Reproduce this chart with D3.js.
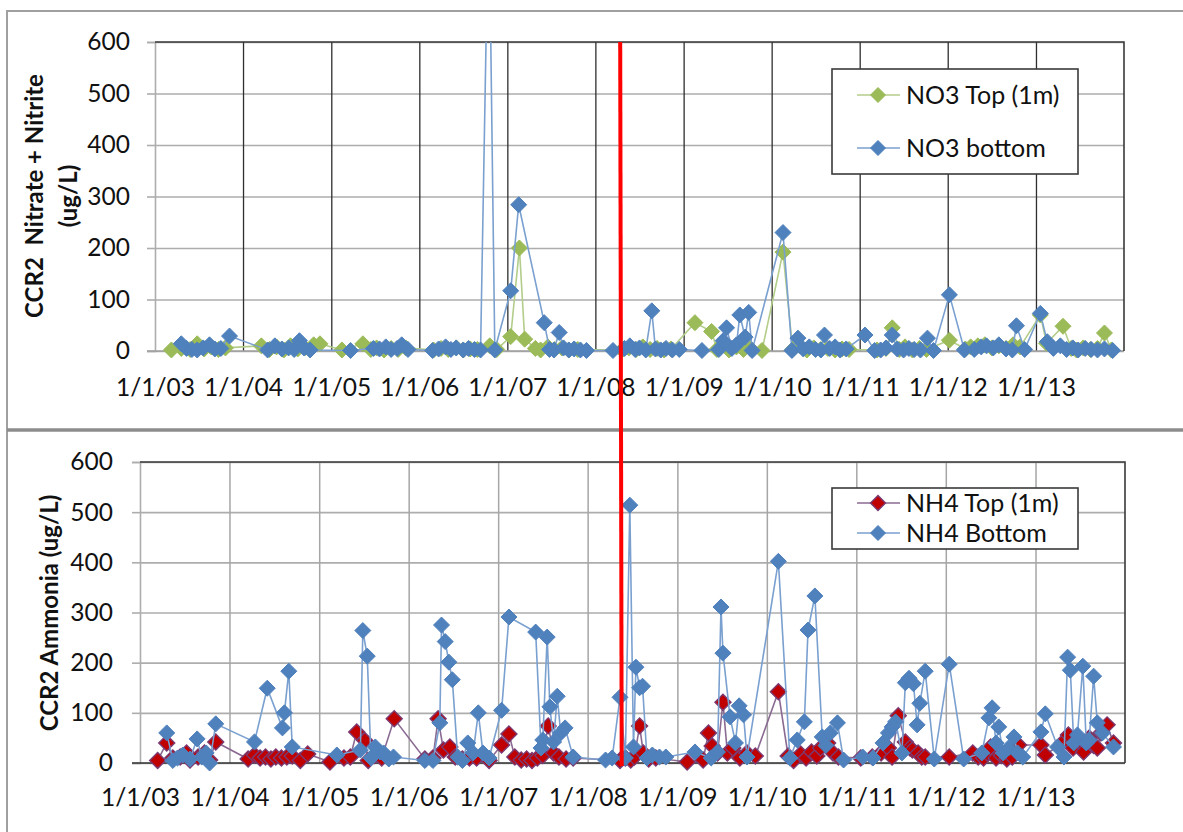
<!DOCTYPE html>
<html>
<head>
<meta charset="utf-8">
<script src="https://cdn.jsdelivr.net/npm/d3@7"></script>
<style>
  html, body { margin: 0; padding: 0; background: #fff; }
  svg { display: block; }
</style>
</head>
<body>
<svg id="chart" width="1183" height="832"></svg>
<script>
// ---- data ----
const yearTicks = ["2003-01-01","2004-01-01","2005-01-01","2006-01-01","2007-01-01","2008-01-01",
                   "2009-01-01","2010-01-01","2011-01-01","2012-01-01","2013-01-01"];
const valueTicks = [0, 100, 200, 300, 400, 500, 600];
const markerDate = "2008-04-13";   // vertical reference line

// Nitrate + nitrite, surface (1 m)
const no3Top = [
  ["2003-03-10",2],["2003-04-20",5],["2003-05-27",3],["2003-06-25",14],["2003-07-24",4],["2003-08-22",8],
  ["2003-09-21",3],["2003-10-20",6],["2004-03-17",10],["2004-04-20",3],["2004-05-19",8],["2004-06-18",2],
  ["2004-07-16",10],["2004-08-15",4],["2004-09-13",6],["2004-10-20",12],["2004-11-15",14],["2005-02-14",2],
  ["2005-05-12",14],["2005-06-14",3],["2005-07-08",6],["2005-08-08",2],["2005-09-06",5],["2005-10-05",3],
  ["2005-11-06",6],["2006-03-01",2],["2006-04-01",5],["2006-05-01",3],["2006-06-03",6],["2006-07-02",2],
  ["2006-07-31",4],["2006-08-30",3],["2006-10-20",10],["2006-11-18",3],["2007-01-15",28],["2007-02-20",200],
  ["2007-03-14",23],["2007-04-27",5],["2007-05-19",2],["2007-06-18",8],["2007-07-16",3],["2007-08-15",6],
  ["2007-09-13",2],["2007-10-20",3],["2008-04-20",2],["2008-05-19",6],["2008-06-18",3],["2008-07-16",8],
  ["2008-08-15",3],["2008-09-13",5],["2008-10-12",2],["2008-11-10",4],["2009-02-17",55],["2009-04-27",38],
  ["2009-05-19",3],["2009-06-14",12],["2009-07-08",2],["2009-08-08",8],["2009-09-06",3],["2009-10-05",5],
  ["2009-11-22",1],["2010-02-17",192],["2010-03-29",3],["2010-04-27",10],["2010-05-27",2],["2010-06-25",6],
  ["2010-07-24",3],["2010-08-22",5],["2010-09-21",2],["2010-10-20",4],["2010-11-18",3],["2011-03-14",2],
  ["2011-04-20",5],["2011-05-16",45],["2011-06-14",3],["2011-07-08",8],["2011-08-08",2],["2011-09-06",5],
  ["2011-10-05",3],["2012-01-08",21],["2012-03-14",4],["2012-04-05",8],["2012-05-05",10],["2012-06-03",12],
  ["2012-07-02",6],["2012-07-31",10],["2012-08-30",5],["2012-09-28",12],["2012-10-27",8],["2013-01-19",70],
  ["2013-02-14",15],["2013-04-23",48],["2013-05-27",5],["2013-06-18",2],["2013-07-16",6],["2013-08-15",3],
  ["2013-09-13",5],["2013-10-12",35],["2013-11-10",2]
];

// Nitrate + nitrite, near bottom
const no3Bottom = [
  ["2003-04-20",14],["2003-05-12",5],["2003-06-03",3],["2003-06-25",2],["2003-07-20",6],["2003-08-15",12],
  ["2003-09-06",4],["2003-10-01",5],["2003-11-06",29],["2004-04-12",2],["2004-05-12",10],["2004-06-10",4],
  ["2004-07-08",6],["2004-07-31",3],["2004-08-22",20],["2004-09-10",6],["2004-10-05",2],["2005-03-22",1],
  ["2005-06-25",5],["2005-07-20",4],["2005-08-15",8],["2005-09-06",3],["2005-10-01",5],["2005-10-20",12],
  ["2005-11-15",3],["2006-02-25",1],["2006-03-22",4],["2006-04-20",8],["2006-05-12",3],["2006-06-03",6],
  ["2006-07-02",2],["2006-07-24",5],["2006-08-18",3],["2006-09-12",2],["2006-10-16",900],["2006-11-10",2],
  ["2007-01-15",117],["2007-02-17",284],["2007-06-03",55],["2007-06-25",3],["2007-07-13",2],["2007-08-04",36],
  ["2007-08-22",6],["2007-09-13",2],["2007-10-05",4],["2007-10-31",2],["2007-11-25",1],["2008-03-14",1],
  ["2008-05-01",5],["2008-05-23",10],["2008-06-14",3],["2008-07-02",6],["2008-07-28",2],["2008-08-22",78],
  ["2008-09-06",4],["2008-09-28",2],["2008-10-20",5],["2008-11-15",2],["2008-12-14",3],["2009-03-18",1],
  ["2009-05-27",3],["2009-06-14",20],["2009-06-28",45],["2009-07-20",5],["2009-08-08",12],["2009-08-22",70],
  ["2009-09-13",27],["2009-09-28",75],["2009-10-12",1],["2010-02-17",230],["2010-03-26",1],["2010-04-20",25],
  ["2010-05-12",4],["2010-06-06",8],["2010-07-02",3],["2010-07-24",2],["2010-08-08",31],["2010-08-30",5],
  ["2010-09-21",8],["2010-10-12",2],["2010-11-06",4],["2011-01-23",31],["2011-03-04",1],["2011-03-29",2],
  ["2011-04-20",6],["2011-05-16",31],["2011-06-06",4],["2011-07-02",2],["2011-07-24",5],["2011-08-15",3],
  ["2011-09-10",2],["2011-10-09",25],["2011-11-03",1],["2012-01-08",109],["2012-03-10",2],["2012-04-20",3],
  ["2012-05-19",8],["2012-06-10",10],["2012-07-08",6],["2012-07-31",12],["2012-08-30",4],["2012-09-25",2],
  ["2012-10-12",49],["2012-11-15",3],["2013-01-19",73],["2013-02-17",18],["2013-03-14",5],["2013-04-12",10],
  ["2013-05-08",3],["2013-06-03",6],["2013-06-25",2],["2013-07-24",5],["2013-08-18",3],["2013-09-13",2],
  ["2013-10-12",4],["2013-11-15",1]
];

// Ammonia, surface (1 m)
const nh4Top = [
  ["2003-03-14",5],["2003-04-20",40],["2003-05-15",10],["2003-06-14",12],["2003-07-10",20],["2003-07-24",6],
  ["2003-08-26",12],["2003-09-21",20],["2003-10-12",6],["2003-11-06",42],["2004-03-17",8],["2004-04-12",16],
  ["2004-05-05",10],["2004-05-27",12],["2004-06-18",8],["2004-07-08",12],["2004-07-31",10],["2004-08-22",12],
  ["2004-09-13",14],["2004-10-16",5],["2004-11-15",18],["2005-02-14",2],["2005-04-12",10],["2005-05-08",12],
  ["2005-06-03",62],["2005-07-06",45],["2005-07-20",5],["2005-08-15",15],["2005-09-13",10],["2005-11-03",88],
  ["2006-03-08",8],["2006-04-10",10],
  ["2006-05-01",88],["2006-05-23",26],["2006-06-18",32],["2006-07-10",12],["2006-08-08",8],["2006-09-06",10],
  ["2006-10-05",10],["2006-11-25",5],["2007-01-15",36],["2007-02-14",58],["2007-03-10",12],["2007-04-05",6],
  ["2007-04-27",8],["2007-05-19",5],["2007-06-10",10],["2007-07-02",15],["2007-07-24",74],["2007-08-15",20],
  ["2007-09-06",12],["2007-10-05",8],["2007-11-03",10],["2008-05-12",5],["2008-06-03",10],["2008-06-25",6],
  ["2008-07-10",12],["2008-07-31",74],["2008-08-15",20],["2008-09-06",8],["2008-10-05",10],["2009-02-10",2],
  ["2009-04-16",6],["2009-05-08",60],["2009-05-23",34],["2009-06-14",20],["2009-07-06",121],["2009-07-24",20],
  ["2009-08-15",30],["2009-09-13",10],["2009-10-12",20],["2009-11-15",14],["2010-02-17",142],["2010-03-29",14],
  ["2010-04-20",5],["2010-05-19",18],["2010-06-10",10],["2010-07-02",22],["2010-07-24",14],["2010-08-08",30],
  ["2010-09-06",40],["2010-09-28",20],["2010-10-20",12],["2011-01-19",10],["2011-03-07",12],["2011-04-12",20],
  ["2011-05-12",30],["2011-05-27",12],["2011-06-21",94],["2011-07-20",42],["2011-08-08",30],["2011-08-18",26],
  ["2011-09-10",20],["2011-09-25",12],["2011-10-09",12],["2012-01-15",12],["2012-04-20",20],["2012-05-12",12],
  ["2012-06-03",10],["2012-06-18",20],["2012-07-02",32],["2012-07-24",10],["2012-08-15",15],["2012-09-06",8],
  ["2012-09-28",12],["2012-10-24",36],["2013-01-23",36],["2013-02-10",16],["2013-04-20",40],["2013-05-15",56],
  ["2013-06-03",30],["2013-06-25",45],["2013-07-16",22],["2013-08-08",50],["2013-08-26",35],["2013-09-10",30],
  ["2013-09-25",60],["2013-10-20",76],["2013-11-15",40]
];

// Ammonia, near bottom
const nh4Bottom = [
  ["2003-04-20",60],["2003-05-15",5],["2003-06-03",10],["2003-06-25",16],["2003-07-24",8],["2003-08-22",48],
  ["2003-09-10",12],["2003-09-28",20],["2003-10-12",0],["2003-11-06",78],["2004-04-12",42],["2004-06-03",149],
  ["2004-08-04",70],["2004-08-12",100],["2004-08-30",183],["2004-09-13",32],["2005-03-14",16],["2005-06-18",26],
  ["2005-06-28",264],["2005-07-16",213],["2005-07-31",10],["2005-08-18",32],["2005-09-06",22],["2005-09-21",20],
  ["2005-10-12",8],["2005-10-31",12],["2006-03-08",5],["2006-04-10",5],["2006-05-08",80],["2006-05-15",275],
  ["2006-05-30",242],["2006-06-14",201],["2006-06-28",166],["2006-07-20",12],["2006-08-08",5],["2006-08-30",40],
  ["2006-09-21",20],["2006-10-12",100],["2006-10-31",20],["2006-11-25",10],["2007-01-15",105],["2007-02-14",291],
  ["2007-06-03",261],["2007-06-25",30],["2007-07-02",46],["2007-07-20",251],["2007-07-31",112],["2007-08-15",42],
  ["2007-08-30",133],["2007-09-13",60],["2007-10-01",70],["2007-11-03",12],["2008-03-14",6],["2008-04-10",10],
  ["2008-05-12",131],["2008-06-03",10],["2008-06-21",514],["2008-07-06",32],["2008-07-16",191],["2008-07-31",150],
  ["2008-08-12",153],["2008-08-30",10],["2008-09-21",16],["2008-10-20",12],["2008-11-15",12],["2009-03-14",22],
  ["2009-05-19",10],["2009-06-14",22],["2009-06-28",311],["2009-07-06",219],["2009-08-04",92],["2009-08-26",40],
  ["2009-09-10",114],["2009-09-28",96],["2009-10-12",12],["2010-02-17",402],["2010-04-05",10],["2010-05-05",46],
  ["2010-06-03",82],["2010-06-18",265],["2010-07-16",333],["2010-08-15",52],["2010-08-30",35],["2010-09-17",60],
  ["2010-10-16",80],["2010-11-10",6],["2011-01-27",12],["2011-03-10",10],["2011-04-20",40],["2011-05-12",60],
  ["2011-05-27",72],["2011-06-10",82],["2011-07-06",20],["2011-07-20",160],["2011-08-04",169],["2011-08-22",158],
  ["2011-09-06",76],["2011-09-17",119],["2011-10-09",183],["2011-11-15",8],["2012-01-15",197],["2012-03-14",8],
  ["2012-05-27",20],["2012-06-25",90],["2012-07-08",110],["2012-07-24",40],["2012-08-04",72],["2012-08-22",20],
  ["2012-09-13",30],["2012-10-05",52],["2012-10-20",20],["2012-11-10",12],["2013-01-23",62],["2013-02-10",98],
  ["2013-04-01",32],["2013-04-27",12],["2013-05-12",211],["2013-05-23",185],["2013-06-06",40],["2013-06-21",56],
  ["2013-07-13",193],["2013-07-27",40],["2013-08-08",46],["2013-08-26",173],["2013-09-10",80],["2013-10-01",60],
  ["2013-11-15",32]
];

// ---- drawing ----
const parse = d3.timeParse("%Y-%m-%d");
const fmtTick = d3.timeFormat("%-m/%-d/%y");
const FONT = "Lato, 'Open Sans', sans-serif";
const svg = d3.select("#chart");

const diamond = r => `M0,${-r}L${r},0L0,${r}L${-r},0Z`;

// panel frames
svg.append("path").attr("d", "M7,832 V11 H1183").attr("fill", "none")
  .attr("stroke", "#a0a0a0").attr("stroke-width", 2);
svg.append("line").attr("x1", 7).attr("x2", 1183).attr("y1", 430).attr("y2", 430)
  .attr("stroke", "#8c8c8c").attr("stroke-width", 3.5);

function drawPanel(cfg) {
  const g = svg.append("g");
  const x = d3.scaleTime()
    .domain([parse("2003-01-01"), parse("2014-01-01")])
    .range([cfg.left, cfg.right]);
  const y = d3.scaleLinear().domain([0, 600]).range([cfg.bottom, cfg.top]);
  const w = cfg.right - cfg.left, h = cfg.bottom - cfg.top;

  // horizontal gridlines with short outward ticks
  g.append("g").attr("transform", `translate(${cfg.left},0)`)
    .call(d3.axisLeft(y).tickValues(valueTicks).tickSizeInner(-w).tickSizeOuter(0).tickFormat(""))
    .call(a => a.select(".domain").remove())
    .call(a => a.selectAll(".tick line").attr("stroke", "#adadad").attr("stroke-width", 1.6));
  g.append("g").attr("transform", `translate(${cfg.left},0)`)
    .call(d3.axisLeft(y).tickValues(valueTicks).tickSize(8).tickPadding(cfg.yPad).tickFormat(d3.format("d")))
    .call(a => a.select(".domain").attr("stroke", "#adadad").attr("stroke-width", 1.6))
    .call(a => a.selectAll(".tick line").attr("stroke", "#adadad").attr("stroke-width", 1.6))
    .call(a => a.selectAll("text").attr("font-family", FONT).attr("font-size", 24.5).attr("fill", "#111"));

  // vertical gridlines at each year
  const years = yearTicks.map(parse);
  g.append("g").attr("transform", `translate(0,${cfg.bottom})`)
    .call(d3.axisBottom(x).tickValues(years.slice(1)).tickSize(-h).tickFormat(""))
    .call(a => a.select(".domain").remove())
    .call(a => a.selectAll(".tick line").attr("stroke", cfg.vGrid).attr("stroke-width", cfg.vGridW));

  // x tick labels
  g.append("g").attr("transform", `translate(0,${cfg.bottom})`)
    .call(d3.axisBottom(x).tickValues(years).tickSize(0).tickPadding(cfg.xPad).tickFormat(fmtTick))
    .call(a => a.select(".domain").remove())
    .call(a => a.selectAll("text").attr("font-family", FONT).attr("font-size", 24.5).attr("fill", "#111"));

  // zero line, top and right border
  g.append("line").attr("x1", cfg.left - 8).attr("x2", cfg.right).attr("y1", y(0)).attr("y2", y(0))
    .attr("stroke", cfg.zeroColor).attr("stroke-width", 1.6);
  g.append("path").attr("d", `M${cfg.left},${cfg.top}H${cfg.right}V${cfg.bottom}`)
    .attr("fill", "none").attr("stroke", "#3a3a3a").attr("stroke-width", 1.6);

  // y-axis title
  const tg = g.append("g").attr("font-family", FONT).attr("font-weight", "bold")
    .attr("font-size", 24).attr("fill", "#111").attr("text-anchor", "middle");
  cfg.title.forEach((t, i) => {
    tg.append("text").attr("transform", `translate(${cfg.titleX[i]},${cfg.titleY}) rotate(-90)`)
      .attr("dy", "0.35em").attr("xml:space", "preserve").text(t);
  });

  // clip for lines that run past the axis maximum
  const clipId = "clip-" + cfg.id;
  svg.append("clipPath").attr("id", clipId).append("rect")
    .attr("x", cfg.left).attr("y", cfg.top).attr("width", w).attr("height", h + 40);

  const line = d3.line().x(d => x(d.date)).y(d => y(d.value));
  cfg.series.forEach(s => {
    const pts = s.data.map(([d, v]) => ({ date: parse(d), value: v }));
    g.append("path").datum(pts).attr("d", line).attr("fill", "none")
      .attr("stroke", s.lineColor).attr("stroke-width", 1.6).attr("clip-path", `url(#${clipId})`);
    g.append("g").selectAll("path").data(pts.filter(p => p.value <= 600)).join("path")
      .attr("transform", p => `translate(${x(p.date)},${y(p.value)})`)
      .attr("d", diamond(8)).attr("fill", s.fill)
      .attr("stroke", s.stroke).attr("stroke-width", s.strokeW);
  });

  // legend
  const L = cfg.legend;
  const lg = svg.append("g");
  lg.append("rect").attr("x", L.x).attr("y", L.y).attr("width", L.w).attr("height", L.h)
    .attr("fill", "#fff").attr("stroke", "#3a3a3a").attr("stroke-width", 1.6);
  cfg.series.forEach((s, i) => {
    const cy = L.y + L.rows[i];
    lg.append("line").attr("x1", L.x + 25).attr("x2", L.x + 68).attr("y1", cy).attr("y2", cy)
      .attr("stroke", s.lineColor).attr("stroke-width", 1.6);
    lg.append("path").attr("transform", `translate(${L.x + 46},${cy})`).attr("d", diamond(7.5))
      .attr("fill", s.fill).attr("stroke", s.stroke).attr("stroke-width", s.strokeW);
    lg.append("text").attr("x", L.x + 74).attr("y", cy).attr("dy", "0.35em")
      .attr("font-family", FONT).attr("font-size", 25).attr("fill", "#111").text(s.name);
  });
  return x;
}

const xTop = drawPanel({
  id: "no3", left: 155, right: 1124, top: 42, bottom: 351, yPad: 17, xPad: 28,
  vGrid: "#2e2e2e", vGridW: 1.3, zeroColor: "#a0a0a0",
  title: ["CCR2  Nitrate + Nitrite", "(ug/L)"], titleX: [35, 69], titleY: 196,
  legend: { x: 832, y: 69, w: 246, h: 105, rows: [26, 79] },
  series: [
    { name: "NO3 Top (1m)", data: no3Top, fill: "#9bbb59", stroke: "#9bbb59", strokeW: 1, lineColor: "#b3cd8a" },
    { name: "NO3 bottom", data: no3Bottom, fill: "#4f81bd", stroke: "#4f81bd", strokeW: 1, lineColor: "#7aa0d0" }
  ]
});

drawPanel({
  id: "nh4", left: 140, right: 1125, top: 462, bottom: 763, yPad: 19, xPad: 26,
  vGrid: "#a6a6a6", vGridW: 1.5, zeroColor: "#333",
  title: ["CCR2 Ammonia (ug/L)"], titleX: [50], titleY: 613,
  legend: { x: 832, y: 488, w: 246, h: 61, rows: [15, 45] },
  series: [
    { name: "NH4 Top (1m)", data: nh4Top, fill: "#c00000", stroke: "#7b3a72", strokeW: 1.4, lineColor: "#8a6a92" },
    { name: "NH4 Bottom", data: nh4Bottom, fill: "#4f81bd", stroke: "#4f81bd", strokeW: 1, lineColor: "#7aa0d0" }
  ]
});

// vertical reference line spanning both panels
const mx = xTop(parse(markerDate));
svg.append("line").attr("x1", mx).attr("x2", mx + 1.5).attr("y1", 42).attr("y2", 766)
  .attr("stroke", "#ff0000").attr("stroke-width", 4);
</script>
</body>
</html>
